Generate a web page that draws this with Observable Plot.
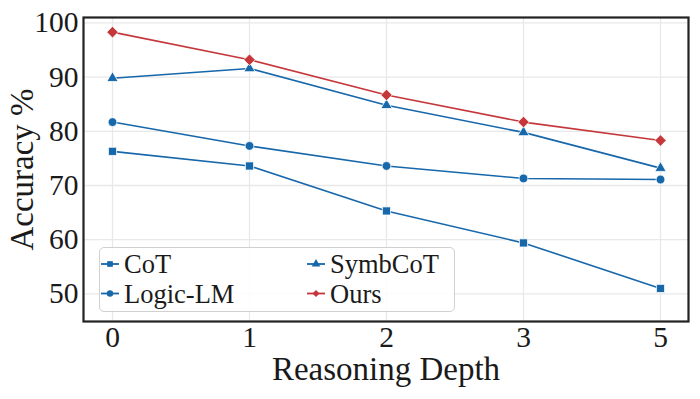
<!DOCTYPE html>
<html>
<head>
<meta charset="utf-8">
<script src="https://cdn.jsdelivr.net/npm/d3@7"></script>
<script src="https://cdn.jsdelivr.net/npm/@observablehq/plot@0.6"></script>
<style>
  body { margin: 0; background: #fff; }
  #wrap { position: relative; width: 700px; height: 399px; }
  #wrap svg text { font-family: "Liberation Serif", "Times New Roman", serif !important; font-variant-numeric: normal !important; }
  #legend { position: absolute; left: 99px; top: 247px; width: 356px; height: 65px;
    border: 1.5px solid #d0d0d0; border-radius: 5px; background: rgba(255,255,255,0.85); box-sizing: border-box; }
</style>
</head>
<body>
<div id="wrap"></div>
<script>
const depths = ["0", "1", "2", "3", "5"];
const seriesNames = ["CoT", "Logic-LM", "SymbCoT", "Ours"];
const cot = [76.3, 73.6, 65.3, 59.4, 51.0];
const logicLM = [81.7, 77.3, 73.6, 71.3, 71.1];
const symbCoT = [89.8, 91.6, 84.8, 79.8, 73.2];
const ours = [98.3, 93.2, 86.7, 81.7, 78.3];
const yTicks = [50, 60, 70, 80, 90, 100];

const colors = {"CoT": "#1767ab", "Logic-LM": "#1767ab", "SymbCoT": "#1767ab", "Ours": "#c5373a"};
const symbols = {"CoT": "square", "Logic-LM": "circle", "SymbCoT": "triangle", "Ours": "diamond2"};
const radii = {"CoT": 4.6, "Logic-LM": 4.4, "SymbCoT": 4.2, "Ours": 5.2};

const valuesBySeries = {"CoT": cot, "Logic-LM": logicLM, "SymbCoT": symbCoT, "Ours": ours};
const data = seriesNames.flatMap(s => depths.map((d, i) => ({series: s, depth: d, acc: valuesBySeries[s][i]})));

const font = "Liberation Serif, Times New Roman, serif";

const chart = Plot.plot({
  width: 700, height: 399,
  marginLeft: 83, marginRight: 12, marginTop: 17, marginBottom: 78,
  style: {fontFamily: font, fontSize: "29px", color: "#1a1a1a", background: "#fff"},
  x: {type: "point", domain: depths, padding: 0.208, label: null},
  y: {domain: [44.9, 101], label: null},
  marks: [
    Plot.gridX(depths, {stroke: "#e8e8e8", strokeOpacity: 1, strokeWidth: 1.3}),
    Plot.gridY(yTicks, {stroke: "#e8e8e8", strokeOpacity: 1, strokeWidth: 1.3}),
    Plot.axisX({tickSize: 0, tickPadding: 5, fontSize: 29.5, label: null}),
    Plot.axisY({ticks: yTicks, tickSize: 0, tickPadding: 5, fontSize: 29.5, label: null}),
    ...seriesNames.map(s => Plot.line(data.filter(d => d.series === s), {x: "depth", y: "acc", stroke: colors[s], strokeWidth: 1.6})),
    ...seriesNames.map(s => Plot.dot(data.filter(d => d.series === s), {x: "depth", y: "acc", symbol: symbols[s], r: radii[s], fill: colors[s], stroke: "#fff", strokeWidth: 0.8})),
    Plot.frame({stroke: "#222", strokeWidth: 2.2}),
    Plot.text(["Reasoning Depth"], {frameAnchor: "bottom", textAnchor: "middle", lineAnchor: "middle", dy: 48, fontSize: 33, fill: "#1a1a1a"}),
    Plot.text(["Accuracy %"], {frameAnchor: "left", textAnchor: "middle", lineAnchor: "middle", dx: -61, rotate: -90, fontSize: 33, fill: "#1a1a1a"})
  ]
});
document.getElementById("wrap").appendChild(chart);

// Legend overlay
const legend = d3.select("#wrap").append("div").attr("id", "legend");
const lsvg = legend.append("svg").attr("width", 356).attr("height", 65).style("position", "absolute").style("left", "-1.5px").style("top", "-1.5px");
const d3sym = {"square": d3.symbolSquare, "circle": d3.symbolCircle, "triangle": d3.symbolTriangle, "diamond2": d3.symbolDiamond2};
const legendPos = [
  {s: "CoT", x: 0, y: 0}, {s: "Logic-LM", x: 0, y: 1},
  {s: "SymbCoT", x: 1, y: 0}, {s: "Ours", x: 1, y: 1}
];
legendPos.forEach(p => {
  const x0 = 2 + p.x * 206, cy = 17 + p.y * 29.5;
  const g = lsvg.append("g");
  g.append("line").attr("x1", x0).attr("x2", x0 + 18).attr("y1", cy).attr("y2", cy).attr("stroke", colors[p.s]).attr("stroke-width", 1.8);
  const r = 3.2;
  g.append("path").attr("transform", `translate(${x0 + 9},${cy})`)
    .attr("d", d3.symbol(d3sym[symbols[p.s]], Math.PI * r * r)()).attr("fill", colors[p.s]);
  g.append("text").attr("x", x0 + 23).attr("y", cy + 9).text(p.s)
    .attr("font-size", 26.5).attr("fill", "#1a1a1a");
});
</script>
</body>
</html>
